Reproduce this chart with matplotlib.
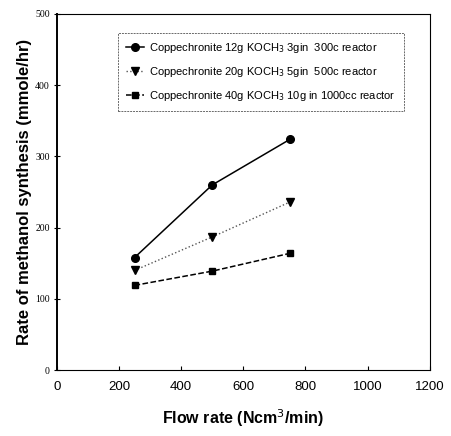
import numpy as np
import matplotlib.pyplot as plt

flow = [250, 500, 750]
rate_300cc = [158, 260, 324]
rate_500cc = [140, 187, 236]
rate_1000cc = [119, 139, 164]

labels = [
    "Coppechronite 12g KOCH$_3$ 3gin  300c reactor",
    "Coppechronite 20g KOCH$_3$ 5gin  500c reactor",
    "Coppechronite 40g KOCH$_3$ 10g in 1000cc reactor",
]

plt.rcParams['font.family'] = ['Liberation Sans', 'DejaVu Sans']

fig = plt.figure(figsize=(4.51, 4.36), dpi=100)
ax = fig.add_axes([0.126, 0.151, 0.827, 0.817])

ax.plot(flow, rate_300cc, '-', color='black', lw=1.1, marker='o', ms=5.5,
        label=labels[0])
ax.plot(flow, rate_500cc, ':', color='#555555', lw=1.0, marker='v', ms=5.5,
        mfc='black', mec='black', label=labels[1])
ax.plot(flow, rate_1000cc, '--', color='black', lw=1.1, marker='s', ms=5,
        label=labels[2])

ax.set_xlim(0, 1200)
ax.set_ylim(0, 500)
ax.set_xticks(np.arange(0, 1201, 200))
ax.set_yticks(np.arange(0, 501, 100))
ax.tick_params(axis='x', direction='in', length=3, labelsize=9.5, pad=8)
ax.tick_params(axis='y', direction='inout', length=4, labelsize=7, pad=3)
for t in ax.get_yticklabels():
    t.set_family('Liberation Serif')

for side in ['top', 'right', 'bottom']:
    ax.spines[side].set_linewidth(0.8)
ax.spines['left'].set_linewidth(1.4)

ax.set_xlabel("Flow rate (Ncm$^3$/min)", fontsize=11.5, fontweight='bold',
              labelpad=10)
ax.set_ylabel("Rate of methanol synthesis (mmole/hr)", fontsize=12,
              fontweight='bold', labelpad=2)

leg = ax.legend(loc='upper left', bbox_to_anchor=(0.15, 0.962), fontsize=8,
                frameon=True, fancybox=False, edgecolor='#444444',
                handlelength=1.6, handletextpad=0.5, borderpad=0.7,
                labelspacing=0.9)
leg.get_frame().set_linewidth(0.7)
leg.get_frame().set_linestyle((0, (2, 1)))

plt.savefig("out.png", dpi=100)
